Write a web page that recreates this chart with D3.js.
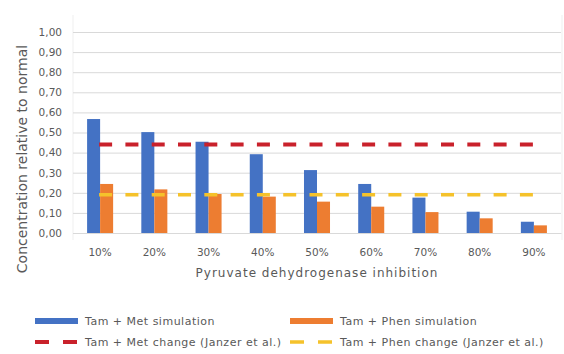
<!DOCTYPE html>
<html>
<head>
<meta charset="utf-8">
<script src="https://cdn.jsdelivr.net/npm/d3@7"></script>
<style>
  html, body { margin: 0; padding: 0; background: #fff; }
  svg { display: block; }
  text { font-family: "DejaVu Sans", sans-serif; fill: #595959; }
</style>
</head>
<body>
<svg id="chart" width="564" height="354"></svg>
<script>
// Inhibition levels on the x axis
const categories = ["10%", "20%", "30%", "40%", "50%", "60%", "70%", "80%", "90%"];
// Simulated concentrations relative to normal
const metSim  = [0.567, 0.502, 0.454, 0.392, 0.313, 0.244, 0.176, 0.106, 0.056];
const phenSim = [0.244, 0.217, 0.194, 0.181, 0.156, 0.131, 0.104, 0.073, 0.038];
// Measured changes (Janzer et al.), constant across inhibition levels
const metChange  = 0.44;
const phenChange = 0.19;
// Y axis ticks
const yTicks = [0, 0.1, 0.2, 0.3, 0.4, 0.5, 0.6, 0.7, 0.8, 0.9, 1.0];

const seriesNames = ["Tam + Met simulation", "Tam + Phen simulation",
                     "Tam + Met change (Janzer et al.)", "Tam + Phen change (Janzer et al.)"];
const colors = { met: "#4472C4", phen: "#ED7D31", metLine: "#C9212B", phenLine: "#F5C22B" };

const svg = d3.select("#chart");
const plot = { left: 73, right: 561, top: 32, bottom: 233 };

const x = d3.scaleBand().domain(categories).range([plot.left, plot.right])
  .paddingInner(0.52).paddingOuter(0.26);
const x1 = d3.scaleBand().domain(["met", "phen"]).range([0, x.bandwidth()]);
const y = d3.scaleLinear().domain([0, 1]).range([plot.bottom, plot.top]);

// faint plot-area side edges
svg.append("g").selectAll("line").data([plot.left, plot.right + 1]).join("line")
  .attr("x1", d => d).attr("x2", d => d).attr("y1", 15).attr("y2", 240)
  .attr("stroke", "#efefef").attr("stroke-width", 1);

// gridlines
svg.append("g")
  .attr("transform", `translate(${plot.left},0)`)
  .call(d3.axisLeft(y).tickValues(yTicks).tickSize(-(plot.right - plot.left)).tickFormat(""))
  .call(g => g.select(".domain").remove())
  .call(g => g.selectAll(".tick line").attr("stroke", "#d9d9d9").attr("stroke-width", 1));

// y tick labels
const fmt = d3.format(".2f");
svg.append("g")
  .attr("transform", `translate(${plot.left},0)`)
  .call(d3.axisLeft(y).tickValues(yTicks).tickSize(0).tickPadding(11)
    .tickFormat(d => fmt(d).replace(".", ",")))
  .call(g => g.select(".domain").remove())
  .call(g => g.selectAll("text").style("font-family", "DejaVu Sans, sans-serif")
    .attr("font-size", 10.5).attr("fill", "#595959"));

// bars
const groups = svg.append("g").selectAll("g").data(categories).join("g")
  .attr("transform", d => `translate(${x(d)},0)`);
groups.append("rect")
  .attr("x", x1("met")).attr("width", x1.bandwidth())
  .attr("y", (d, i) => y(metSim[i])).attr("height", (d, i) => y(0) - y(metSim[i]))
  .attr("fill", colors.met);
groups.append("rect")
  .attr("x", x1("phen")).attr("width", x1.bandwidth())
  .attr("y", (d, i) => y(phenSim[i])).attr("height", (d, i) => y(0) - y(phenSim[i]))
  .attr("fill", colors.phen);

// x axis baseline and labels
svg.append("g")
  .attr("transform", `translate(0,${plot.bottom})`)
  .call(d3.axisBottom(x).tickSize(0).tickPadding(16))
  .call(g => g.select(".domain").attr("stroke", "#d9d9d9"))
  .call(g => g.selectAll("text").style("font-family", "DejaVu Sans, sans-serif")
    .attr("font-size", 10.5).attr("fill", "#595959"));

// dashed reference lines
const line = d3.line().x(d => x(d.c) + x.bandwidth() / 2).y(d => y(d.v));
svg.append("path")
  .datum(categories.map(c => ({ c, v: metChange })))
  .attr("d", line).attr("fill", "none")
  .attr("stroke", colors.metLine).attr("stroke-width", 4).attr("stroke-dasharray", "13 13.3")
  .attr("transform", "translate(-1,0)");
svg.append("path")
  .datum(categories.map(c => ({ c, v: phenChange })))
  .attr("d", line).attr("fill", "none")
  .attr("stroke", colors.phenLine).attr("stroke-width", 3.5).attr("stroke-dasharray", "13 13.3")
  .attr("transform", "translate(-1,0)");

// axis titles
svg.append("text")
  .attr("transform", `translate(27,159) rotate(-90)`)
  .attr("text-anchor", "middle").attr("font-size", 14)
  .text("Concentration relative to normal");
svg.append("text")
  .attr("x", (plot.left + plot.right) / 2).attr("y", 277)
  .attr("text-anchor", "middle").attr("font-size", 12)
  .attr("letter-spacing", 1)
  .text("Pyruvate dehydrogenase inhibition");

// legend
const legendItems = [
  { name: seriesNames[0], x: 35, y: 321, color: colors.met, type: "bar" },
  { name: seriesNames[1], x: 290, y: 321, color: colors.phen, type: "bar" },
  { name: seriesNames[2], x: 35, y: 342, color: colors.metLine, type: "dash", w: 4 },
  { name: seriesNames[3], x: 290, y: 342, color: colors.phenLine, type: "dash", w: 3.5 }
];
const leg = svg.append("g").selectAll("g").data(legendItems).join("g")
  .attr("transform", d => `translate(${d.x},${d.y})`);
leg.filter(d => d.type === "bar").append("rect")
  .attr("x", 0).attr("y", -3).attr("width", 43).attr("height", 6)
  .attr("fill", d => d.color);
leg.filter(d => d.type === "dash").append("line")
  .attr("x1", 0).attr("x2", 43).attr("y1", 0).attr("y2", 0)
  .attr("stroke", d => d.color).attr("stroke-width", d => d.w)
  .attr("stroke-dasharray", "14 14");
leg.append("text")
  .attr("x", 50).attr("y", 0).attr("dy", "0.35em")
  .attr("font-size", 11).attr("letter-spacing", 0.5)
  .text(d => d.name);
</script>
</body>
</html>
